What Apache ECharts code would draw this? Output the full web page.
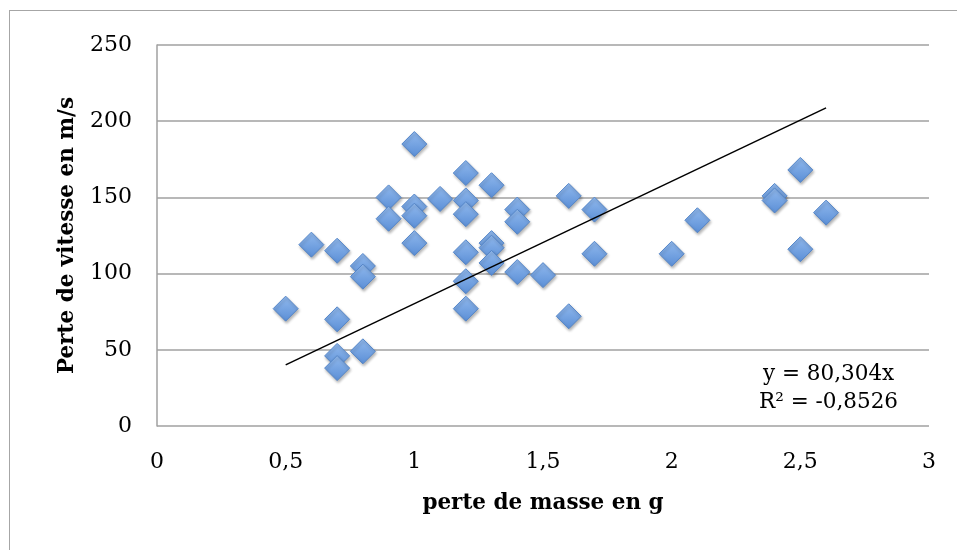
<!DOCTYPE html>
<html>
<head>
<meta charset="utf-8">
<script src="https://cdn.jsdelivr.net/npm/echarts@6/dist/echarts.min.js"></script>
<style>
html,body{margin:0;padding:0;background:#fff;}
#frame{position:absolute;left:9px;top:10px;width:960px;height:560px;border:1.5px solid #a6a6a6;box-sizing:border-box;}
#main{position:absolute;left:0;top:0;width:957px;height:550px;}
</style>
</head>
<body>
<div id="frame"></div>
<div id="main"></div>
<script>
// perte de masse (g)
var masse = [0.5,0.6,0.7,0.7,0.7,0.7,0.8,0.8,0.8,0.9,0.9,1.0,1.0,1.0,1.0,1.1,1.2,1.2,1.2,1.2,1.2,1.2,
    1.3,1.3,1.3,1.3,1.4,1.4,1.4,1.5,1.6,1.6,1.7,1.7,2.0,2.1,2.4,2.4,2.5,2.5,2.6]
// perte de vitesse (m/s)
var vitesse = [77,119,115,70,46,38,105,98,49,150,136,185,144,138,120,149,166,148,139,114,95,77,
    158,120,117,107,142,134,101,99,151,72,142,113,113,135,151,148,168,116,140]
// courbe de tendance y = 80,304x
var trendX = [0.5,2.6]
var trendY = [40.15,208.79]
var xTicks = [0,0.5,1,1.5,2,2.5,3]
var yTicks = [0,50,100,150,200,250]

var points = []
for(var i=0;i<masse.length;i++){
    points.push([masse[i],vitesse[i]])
}
var trend = []
for(var j=0;j<trendX.length;j++){
    trend.push([trendX[j],trendY[j]])
}

var font = 'DejaVu Serif'
var myChart = echarts.init(document.getElementById('main'))
var option = {
    animation:false,
    grid:{left:157,right:28,top:45,bottom:124},
    xAxis:{
        type:'value',
        min:xTicks[0],max:xTicks[xTicks.length-1],interval:0.5,
        name:'perte de masse en g',
        nameLocation:'middle',
        nameGap:66,
        nameTextStyle:{fontFamily:font,fontWeight:'bold',fontSize:21.5,color:'#000'},
        axisLine:{show:false},
        axisTick:{show:false},
        splitLine:{show:false},
        axisLabel:{
            fontFamily:font,fontSize:22,color:'#000',margin:25,
            formatter:function(v){return String(v).replace('.',',')}
        }
    },
    yAxis:{
        type:'value',
        min:yTicks[0],max:yTicks[yTicks.length-1],interval:50,
        name:'Perte de vitesse en m/s',
        nameLocation:'middle',
        nameGap:79,
        nameTextStyle:{fontFamily:font,fontWeight:'bold',fontSize:21.5,color:'#000'},
        axisLine:{show:true,lineStyle:{color:'#a0a0a0',width:1.5}},
        axisTick:{show:false},
        splitLine:{lineStyle:{color:'#a0a0a0',width:1.5}},
        axisLabel:{fontFamily:font,fontSize:22,color:'#000',margin:25}
    },
    series:[
        {
            type:'scatter',
            data:points,
            symbol:'diamond',
            symbolSize:[25,25],
            itemStyle:{
                color:{
                    type:'linear',x:0,y:0,x2:0,y2:1,
                    colorStops:[{offset:0,color:'#92baee'},{offset:1,color:'#5a8ed6'}]
                },
                borderColor:'#5586c8',
                borderWidth:1,
                opacity:1,
                shadowColor:'rgba(0,0,0,0.3)',
                shadowBlur:3,
                shadowOffsetX:1,
                shadowOffsetY:2
            },
            z:2
        },
        {
            type:'line',
            data:trend,
            symbol:'none',
            lineStyle:{color:'#000',width:1.5},
            z:3
        }
    ],
    graphic:[
        {type:'text',left:763,top:363,style:{text:'y = 80,304x',fontFamily:font,fontSize:21.5,fill:'#000'}},
        {type:'text',left:759,top:391,style:{text:'R² = -0,8526',fontFamily:font,fontSize:21.5,fill:'#000'}}
    ]
}
myChart.setOption(option)
</script>
</body>
</html>
